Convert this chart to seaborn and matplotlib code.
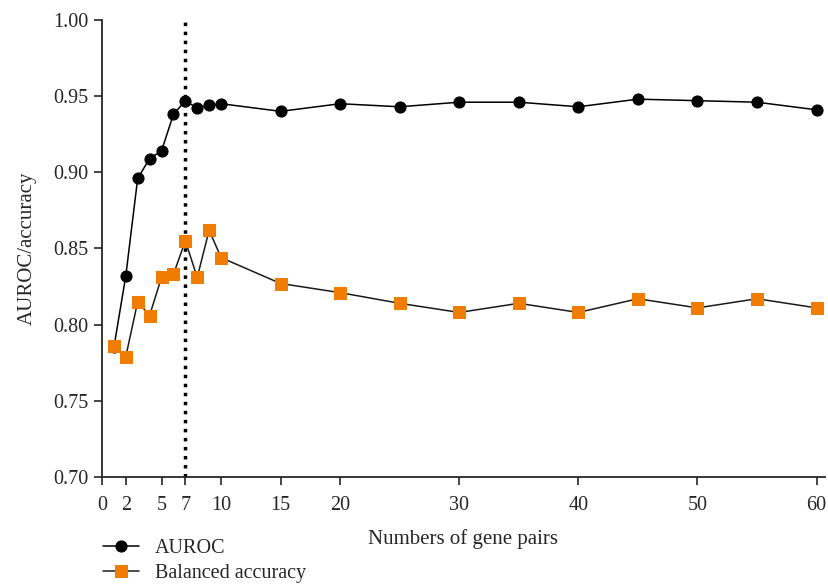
import matplotlib
matplotlib.use("Agg")
import matplotlib.pyplot as plt
import seaborn as sns
import pandas as pd

gene_pairs = [1, 2, 3, 4, 5, 6, 7, 8, 9, 10, 15, 20, 25, 30, 35, 40, 45, 50, 55, 60]
auroc = [0.785, 0.832, 0.896, 0.909, 0.914, 0.938, 0.947, 0.942, 0.944, 0.945,
         0.940, 0.945, 0.943, 0.946, 0.946, 0.943, 0.948, 0.947, 0.946, 0.941]
balanced_acc = [0.786, 0.779, 0.815, 0.806, 0.831, 0.833, 0.855, 0.831, 0.862, 0.844,
                0.827, 0.821, 0.814, 0.808, 0.814, 0.808, 0.817, 0.811, 0.817, 0.811]
xticks = [0, 2, 5, 7, 10, 15, 20, 30, 40, 50, 60]
yticks = [0.70, 0.75, 0.80, 0.85, 0.90, 0.95, 1.00]
cutoff = 7

sns.set_style("ticks")
plt.rcParams['font.family'] = ['Liberation Serif', 'DejaVu Serif']

fig = plt.figure(figsize=(8.29, 5.86), dpi=100)
ax = fig.add_axes([0.123, 0.186, 0.872, 0.780])

df = pd.DataFrame({"x": gene_pairs, "auroc": auroc, "bacc": balanced_acc})
sns.lineplot(data=df, x="x", y="auroc", ax=ax, color="black", marker="o",
             markersize=8, markeredgecolor="black", linewidth=1.1, label="AUROC")
sns.lineplot(data=df, x="x", y="bacc", ax=ax, color="#1a1a1a", marker="s",
             markersize=8, markerfacecolor="#F07D00", markeredgecolor="#F07D00",
             linewidth=1.1, label="Balanced accuracy")
ax.axvline(cutoff, color="black", linestyle=(0, (1, 1.6)), linewidth=2.5, zorder=1)

ax.set_xlim(0, 60.7)
ax.set_ylim(0.70, 1.00)
ax.set_xticks(xticks)
ax.set_yticks(yticks)
ax.set_yticklabels([f"{v:.2f}" for v in yticks])
ax.tick_params(labelsize=14.5, width=1.2, length=6, direction="out")
ax.tick_params(axis="x", pad=8)
ax.set_xlabel("Numbers of gene pairs", fontsize=15, labelpad=10)
ax.set_ylabel("AUROC/accuracy", fontsize=15, labelpad=12)
for s in ["top", "right"]:
    ax.spines[s].set_visible(False)
for s in ["left", "bottom"]:
    ax.spines[s].set_linewidth(1.3)

leg = ax.legend(loc="upper left", bbox_to_anchor=(-0.01, -0.118), frameon=False,
                fontsize=14.5, handlelength=1.8, handletextpad=0.8,
                labelspacing=0.3, borderaxespad=0)

fig.savefig("out.png", dpi=100)
